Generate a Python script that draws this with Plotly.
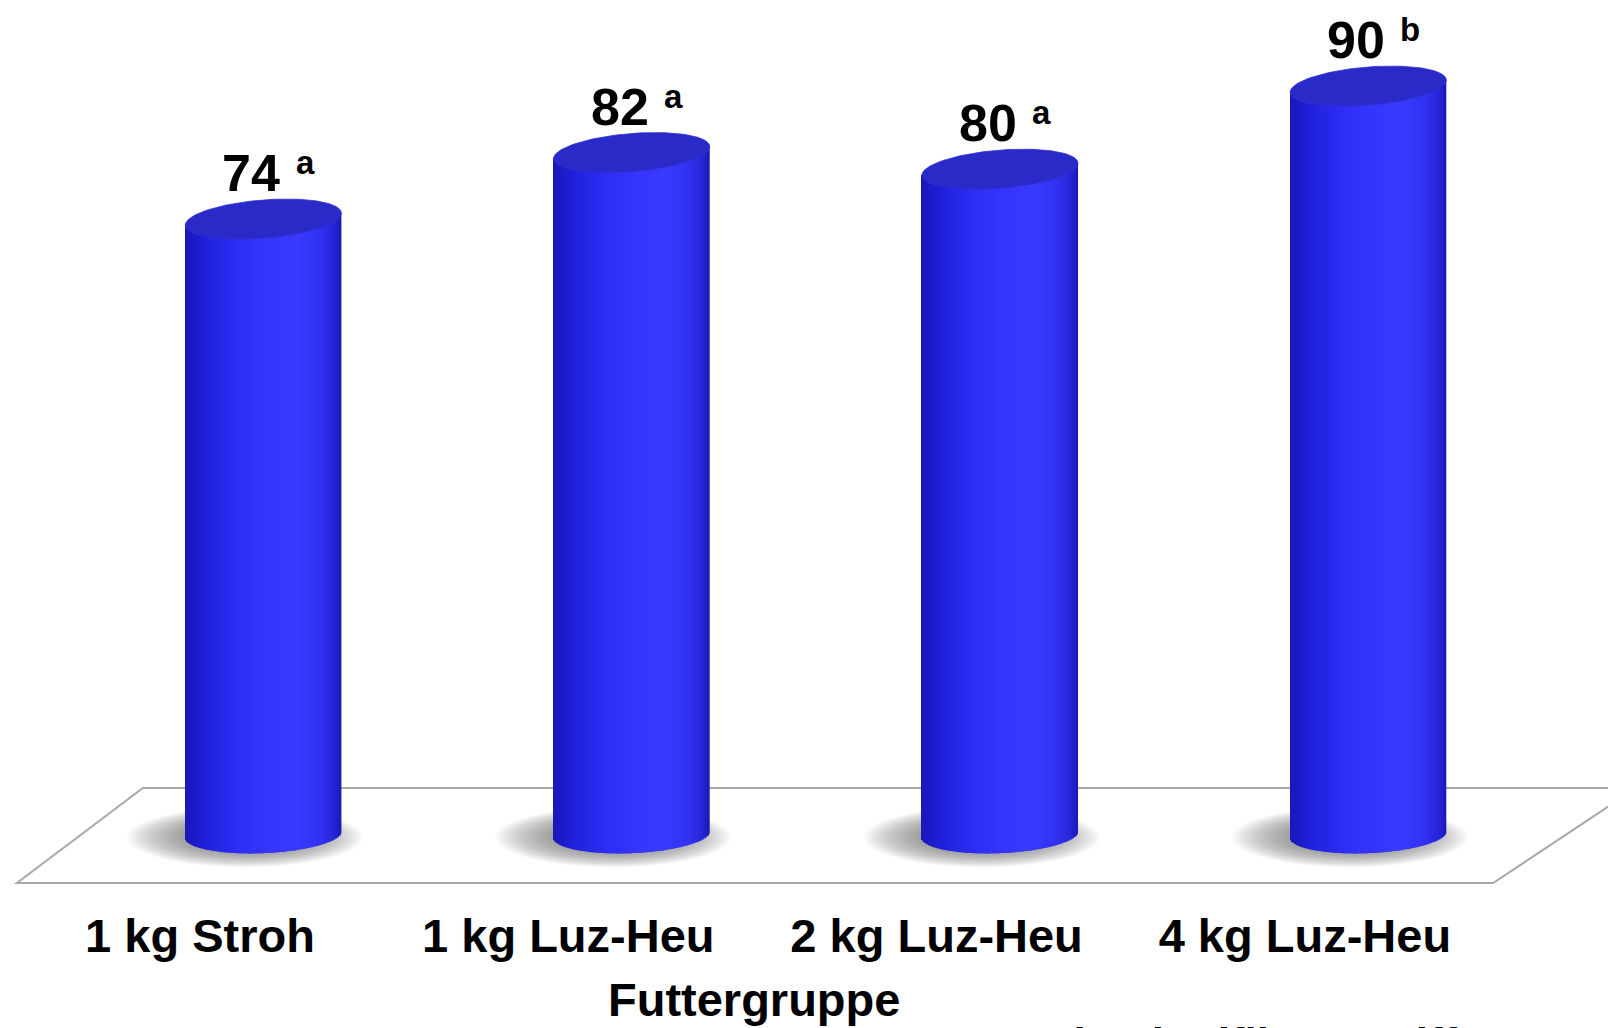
import numpy as np
import plotly.graph_objects as go

# Data
categories = ["1 kg Stroh", "1 kg Luz-Heu", "2 kg Luz-Heu", "4 kg Luz-Heu"]
values = [74, 82, 80, 90]
letters = ["a", "a", "a", "b"]
axis_title = "Futtergruppe"
footnote = "ab: signifikante Differenz"

FONT = "Arial, 'Liberation Sans', sans-serif"

# Cylinder geometry (x in category units, y in value units)
X_SHIFT = 0.172      # perspective shift of cylinders to the right of their labels
RADIUS = 0.212       # half width of a cylinder
CAP_H = 2.3          # half height of the elliptic caps
SHEAR_TOP = 3.4      # tilt of the top cap
SHEAR_BOT = 1.8      # tilt of the bottom rim
N_STRIPS = 90

# Horizontal shading profile across the cylinder body
prof_u = np.array([-1.0, -0.7, -0.3, 0.1, 0.45, 0.75, 0.92, 1.0])
prof_r = np.array([24, 34, 46, 54, 58, 50, 38, 26])
prof_b = np.array([185, 222, 246, 254, 255, 240, 215, 180])


def body_color(u):
    r = np.interp(u, prof_u, prof_r)
    b = np.interp(u, prof_u, prof_b)
    return f"rgb({int(r)},{int(r)},{int(b)})"


fig = go.Figure()
shapes = []

# Floor plane
shapes.append(dict(
    type="path", xref="x", yref="y", layer="below",
    path="M -0.155 5.54 L 3.90 5.54 L 3.511 -5.90 L -0.497 -5.90 Z",
    line=dict(color="#a8a8a8", width=2), fillcolor="rgba(0,0,0,0)",
))

for i, (cat, v, letter) in enumerate(zip(categories, values, letters)):
    cx = i + X_SHIFT

    # soft drop shadow under the cylinder
    n_sh = 26
    for k in range(n_sh):
        f = 1.0 - k / n_sh * 0.6
        shapes.append(dict(
            type="circle", xref="x", yref="y", layer="below",
            x0=cx - 0.04 - 0.33 * f, x1=cx - 0.04 + 0.31 * f,
            y0=-0.3 - 3.7 * f, y1=-0.3 + 3.5 * f,
            fillcolor="rgba(90,90,90,0.04)", line=dict(width=0),
        ))

    # body built from overlapping thin vertical strips
    edges = np.linspace(cx - RADIUS, cx + RADIUS, N_STRIPS + 1)
    xs = 0.5 * (edges[:-1] + edges[1:])
    u = (xs - cx) / RADIUS
    bottom = SHEAR_BOT * (xs - cx) - CAP_H * np.sqrt(np.clip(1 - u ** 2, 0, 1))
    top = v + SHEAR_TOP * (xs - cx)
    step = edges[1] - edges[0]
    w = np.full(N_STRIPS, step * 2.2)
    w[0] = w[-1] = step
    fig.add_trace(go.Bar(
        x=xs, y=top - bottom, base=bottom, width=w,
        marker=dict(color=[body_color(t) for t in u], line=dict(width=0)),
        hoverinfo="skip", showlegend=False,
    ))

    # top cap
    t = np.linspace(0, 2 * np.pi, 140)
    ex = cx + RADIUS * np.cos(t)
    ey = v + SHEAR_TOP * (ex - cx) + CAP_H * np.sin(t)
    fig.add_trace(go.Scatter(
        x=ex, y=ey, mode="lines", fill="toself",
        fillcolor="#2a2ac8", line=dict(width=0.8, color="#3030d6"),
        hoverinfo="skip", showlegend=False,
    ))

    # value label
    fig.add_annotation(
        x=cx, y=v + CAP_H - 0.5, xref="x", yref="y", xshift=-12,
        text=f"<b>{v}</b>", showarrow=False,
        yanchor="bottom", xanchor="center",
        font=dict(family=FONT, size=52, color="black"),
    )
    # significance letter
    fig.add_annotation(
        x=cx, y=v + CAP_H - 0.5, xref="x", yref="y", xshift=42, yshift=21,
        text=f"<b>{letter}</b>", showarrow=False,
        yanchor="bottom", xanchor="center",
        font=dict(family=FONT, size=33, color="black"),
    )

# Axis title
fig.add_annotation(
    x=1.504, y=-0.111, xref="x", yref="paper",
    text=f"<b>{axis_title}</b>", showarrow=False, xanchor="center", yanchor="middle",
    font=dict(family=FONT, size=47, color="black"),
)

# Footnote, running off the lower edge
fig.add_annotation(
    x=2.30, y=-0.1305, xref="x", yref="paper",
    text=f"<b>{footnote}</b>", showarrow=False, xanchor="left", yanchor="top",
    font=dict(family=FONT, size=44, color="black"),
)

fig.update_layout(
    width=1608, height=1028,
    margin=dict(l=0, r=0, t=0, b=128),
    paper_bgcolor="white", plot_bgcolor="white",
    barmode="overlay", shapes=shapes, showlegend=False,
    xaxis=dict(
        range=[-0.543, 3.823], tickmode="array",
        tickvals=list(range(len(categories))),
        ticktext=[f"<b>{c}</b>" for c in categories],
        tickfont=dict(family=FONT, size=47, color="black"),
        showgrid=False, zeroline=False, showline=False, ticks="",
        ticklabelstandoff=4,
    ),
    yaxis=dict(
        range=[-7.94, 100.36], visible=False, showgrid=False, zeroline=False,
    ),
)

fig.write_html("out.html")
